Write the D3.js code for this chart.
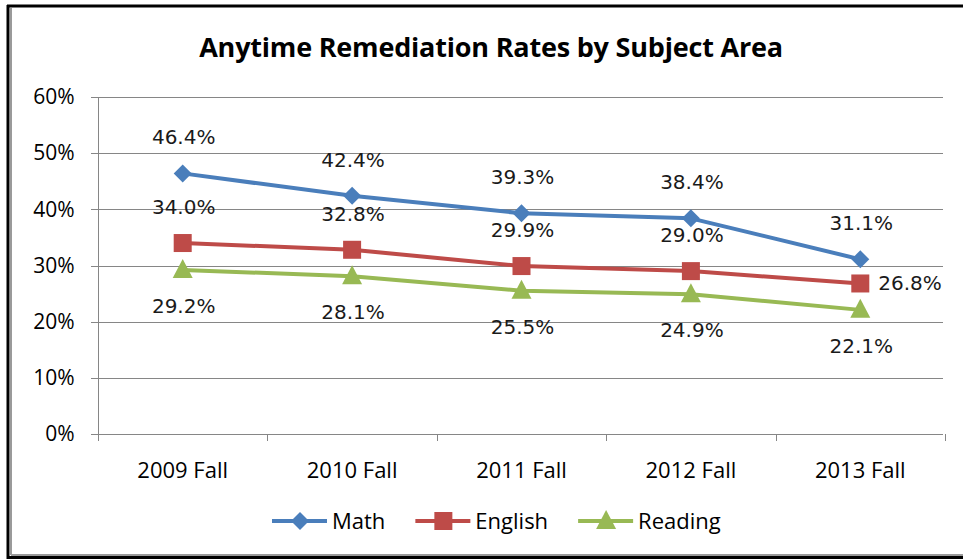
<!DOCTYPE html>
<html>
<head>
<meta charset="utf-8">
<script src="https://cdn.jsdelivr.net/npm/d3@7"></script>
<style>
  html, body { margin: 0; padding: 0; background: #fff; }
  svg { display: block; }
</style>
</head>
<body>
<div id="chart"></div>
<script>
const categories = ['2009 Fall', '2010 Fall', '2011 Fall', '2012 Fall', '2013 Fall'];
const mathRates = [46.4, 42.4, 39.3, 38.4, 31.1];
const englishRates = [34.0, 32.8, 29.9, 29.0, 26.8];
const readingRates = [29.2, 28.1, 25.5, 24.9, 22.1];
const yTicks = [0, 10, 20, 30, 40, 50, 60];
const title = 'Anytime Remediation Rates by Subject Area';

const width = 963;
const height = 559;

const series = [
    { name: 'Math', values: mathRates, color: '#4A7EBB', marker: 'diamond', labelPos: 'above' },
    { name: 'English', values: englishRates, color: '#BE4B48', marker: 'square', labelPos: 'above' },
    { name: 'Reading', values: readingRates, color: '#98B954', marker: 'triangle', labelPos: 'below' }
];

const axisFont = '"Open Sans", sans-serif';
const labelFont = '"DejaVu Sans", sans-serif';

const svg = d3.select('#chart')
    .append('svg')
    .attr('width', width)
    .attr('height', height);

// frame
svg.append('rect').attr('x', 0).attr('y', 0).attr('width', width).attr('height', height).attr('fill', '#fff');
svg.append('line').attr('x1', 7).attr('x2', width).attr('y1', 6).attr('y2', 6)
    .attr('stroke', '#000').attr('stroke-width', 3);
svg.append('line').attr('x1', 8).attr('x2', 8).attr('y1', 5).attr('y2', height)
    .attr('stroke', '#000').attr('stroke-width', 3);
svg.append('line').attr('x1', 11).attr('x2', 11).attr('y1', 8).attr('y2', 555)
    .attr('stroke', '#9a9a9a').attr('stroke-width', 2);
svg.append('line').attr('x1', 7).attr('x2', width).attr('y1', 557.5).attr('y2', 557.5)
    .attr('stroke', '#000').attr('stroke-width', 3);
svg.append('line').attr('x1', 11).attr('x2', width).attr('y1', 555).attr('y2', 555)
    .attr('stroke', '#9a9a9a').attr('stroke-width', 2);

// title
svg.append('text')
    .attr('x', 491)
    .attr('y', 57)
    .attr('text-anchor', 'middle')
    .style('font-family', axisFont)
    .style('font-weight', 'bold')
    .style('font-size', '27px')
    .style('letter-spacing', '-0.2px')
    .attr('fill', '#000')
    .text(title);

// scales
const x_scale = d3.scaleBand()
    .domain(categories)
    .range([98, 945]);

const y_scale = d3.scaleLinear()
    .domain([0, 60])
    .range([434, 97]);

const gridColor = '#868686';

// gridlines
svg.append('g')
    .selectAll('line')
    .data(yTicks)
    .join('line')
    .attr('x1', 91)
    .attr('x2', 943)
    .attr('y1', d => Math.round(y_scale(d)) + 0.5)
    .attr('y2', d => Math.round(y_scale(d)) + 0.5)
    .attr('stroke', gridColor)
    .attr('stroke-width', 1);

// y axis
const y_axis = d3.axisLeft(y_scale)
    .tickValues(yTicks)
    .tickSize(0)
    .tickPadding(24)
    .tickFormat(d => d + '%');

const yg = svg.append('g')
    .attr('transform', 'translate(98.5,0)')
    .call(y_axis);
yg.select('.domain').remove();
yg.selectAll('text')
    .style('font-family', axisFont)
    .style('font-size', '21px')
    .attr('fill', '#000');

svg.append('line')
    .attr('x1', 98.5).attr('x2', 98.5)
    .attr('y1', 97).attr('y2', 441)
    .attr('stroke', gridColor);

// x axis
const x_axis = d3.axisBottom(x_scale).tickSize(0).tickPadding(28);
const xg = svg.append('g')
    .attr('transform', 'translate(0,434.5)')
    .call(x_axis);
xg.select('.domain').remove();
xg.selectAll('text')
    .style('font-family', axisFont)
    .style('font-size', '22px')
    .attr('fill', '#000');

const boundaries = categories.map(c => x_scale(c) + x_scale.bandwidth());
svg.append('g')
    .selectAll('line')
    .data(boundaries)
    .join('line')
    .attr('x1', d => Math.round(d) + 0.5)
    .attr('x2', d => Math.round(d) + 0.5)
    .attr('y1', 434)
    .attr('y2', 441)
    .attr('stroke', gridColor);

const cx = c => x_scale(c) + x_scale.bandwidth() / 2;

function drawMarker(g, kind, color) {
    if (kind === 'diamond') {
        g.append('path').attr('d', 'M0,-9L9,0L0,9L-9,0Z').attr('fill', color);
    } else if (kind === 'square') {
        g.append('rect').attr('x', -9).attr('y', -9).attr('width', 18).attr('height', 18).attr('fill', color);
    } else {
        g.append('path').attr('d', 'M0,-11L10,8L-10,8Z').attr('fill', color);
    }
}

const line = d3.line()
    .x((d, i) => cx(categories[i]))
    .y(d => y_scale(d));

series.forEach(s => {
    svg.append('path')
        .datum(s.values)
        .attr('fill', 'none')
        .attr('stroke', s.color)
        .attr('stroke-width', 4)
        .attr('stroke-linejoin', 'round')
        .attr('d', line);

    s.values.forEach((v, i) => {
        const g = svg.append('g')
            .attr('transform', `translate(${cx(categories[i])},${y_scale(v)})`);
        drawMarker(g, s.marker, s.color);
    });
});

// data labels
series.forEach(s => {
    s.values.forEach((v, i) => {
        const last = i === s.values.length - 1;
        let x = cx(categories[i]);
        let y = y_scale(v);
        let anchor = 'middle';
        if (s.name === 'English' && last) {
            x += 18;
            y += 7;
            anchor = 'start';
        } else if (s.labelPos === 'above') {
            y -= 29;
        } else {
            y += 43;
        }
        svg.append('text')
            .attr('x', anchor === 'start' ? x : x + 1)
            .attr('y', y)
            .attr('text-anchor', anchor)
            .style('font-family', labelFont)
            .style('font-size', '20px')
            .attr('fill', '#1a1a1a')
            .text(v.toFixed(1) + '%');
    });
});

// legend
const legend = svg.append('g').attr('transform', 'translate(272,521)');
let lx = 0;
series.forEach(s => {
    const item = legend.append('g').attr('transform', `translate(${lx},0)`);
    item.append('line')
        .attr('x1', 0).attr('x2', 55)
        .attr('stroke', s.color).attr('stroke-width', 4);
    const m = item.append('g').attr('transform', 'translate(28,0)');
    drawMarker(m, s.marker, s.color);
    const t = item.append('text')
        .attr('x', 60)
        .attr('y', 7.5)
        .style('font-family', axisFont)
        .style('font-size', '22px')
        .attr('fill', '#000')
        .text(s.name);
    lx += 60 + t.node().getComputedTextLength() + 30;
});
</script>
</body>
</html>
